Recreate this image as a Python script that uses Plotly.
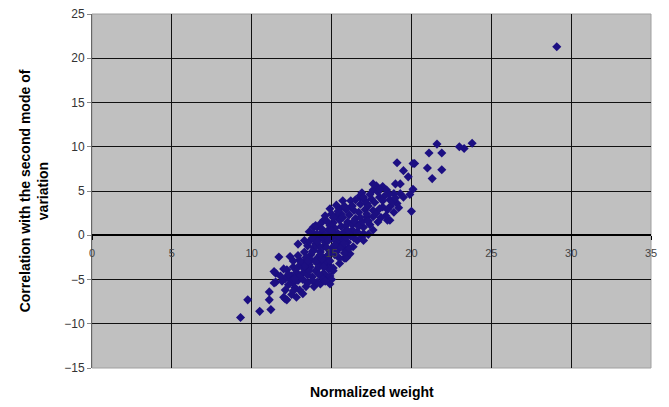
import plotly.graph_objects as go

# Normalized weight (x) and correlation with second mode of variation (y)
pts = [
    (29.1, 21.3),
    (23.8, 10.4), (23.3, 9.8), (23.0, 10.0), (21.6, 10.3), (21.1, 9.3), (21.9, 9.3),
    (20.2, 8.1), (21.0, 7.6), (21.9, 7.4), (21.3, 6.4), (19.1, 8.2), (19.5, 7.3),
    (20.1, 8.1), (19.8, 6.6), (20.1, 5.2), (19.9, 4.6), (20.0, 2.7), (19.3, 4.7),
    (19.0, 5.8), (19.3, 5.8), (19.5, 4.3),
    (9.3, -9.3), (9.75, -7.3), (10.5, -8.6), (11.2, -8.4), (11.1, -7.3), (11.1, -6.4),
    (12.1, -7.2), (12.1, -6.2), (11.4, -5.4), (11.5, -4.3), (12.0, -3.8), (11.7, -2.45),
    (12.0, -7.0), (11.4, -4.1), (11.5, -5.3), (12.1, -4.9), (12.6, -5.4), (12.2, -7.3),
    (12.8, -7.0), (13.0, -6.2), (13.4, -5.8), (13.8, -4.7), (12.6, -3.6), (13.0, -2.8),
    (13.9, -1.7), (13.85, 0.9), (14.3, -0.2), (14.9, 0.2), (14.5, -1.3), (15.1, -1.3),
    (15.5, -0.9), (15.95, -1.7), (16.35, -1.3), (17.0, 0.2), (17.2, 1.7), (17.6, 2.8),
    (13.4, -2.8), (13.2, -4.3), (14.5, -4.3), (14.3, -3.2), (13.65, -3.6), (13.9, -5.8),
    (14.3, -5.5), (14.7, -4.7), (15.1, -4.0), (15.5, -3.2), (15.95, -2.45), (14.9, -5.5),
    (14.8, -3.4), (15.8, -2.6),
    (14.9, 3.0), (15.5, 3.0), (14.1, 0.9), (14.5, 1.7), (15.3, 2.1), (16.2, 3.2),
    (16.8, 4.3), (17.2, 3.6), (17.6, 5.1), (17.8, 5.6), (18.2, 5.5), (18.45, 5.1),
    (18.9, 4.7), (18.0, 4.3), (18.65, 4.0), (19.1, 3.6), (18.2, 3.2), (17.8, 2.45),
    (18.5, 1.7), (17.2, 2.1), (16.6, 1.3), (17.0, 0.9), (16.2, 0.2), (16.6, -0.6),
    (15.7, -1.3), (16.15, -2.1), (15.9, -2.6), (18.65, 1.7),
    (12.4, -2.4), (12.9, -1.0), (13.3, -0.6), (13.6, 0.4), (14.0, 1.1), (16.8, 4.5),
    (17.6, 5.8),
    (14.0, -1.0), (14.2, -0.5), (14.4, 0.3), (14.6, -0.8), (14.8, 0.6), (15.0, -0.3),
    (15.2, 0.8), (15.4, 0.2), (15.6, 1.0), (15.8, 0.4), (16.0, 1.5), (15.3, -0.7),
    (15.1, 1.4), (14.9, -1.8), (14.7, -2.4), (14.3, -1.9), (14.1, -2.6), (13.7, -2.2),
    (13.5, -1.2), (13.6, -3.3), (13.3, -3.8), (13.1, -3.1), (12.8, -4.2), (12.5, -4.6),
    (12.9, -5.1), (13.5, -4.5), (14.0, -4.0), (14.2, -3.6), (14.6, -3.0), (14.9, -2.9),
    (15.2, -2.2), (15.4, -1.6), (15.7, -0.4), (16.0, -0.8), (16.3, 0.6), (16.5, 1.9),
    (16.7, 2.6), (16.9, 1.5), (17.1, 2.9), (17.3, 3.3), (17.5, 4.1), (17.7, 3.7),
    (17.4, 1.2), (16.8, 3.5), (16.4, 2.8), (16.1, 2.3), (15.9, 2.9), (15.6, 2.4),
    (15.3, 3.4), (15.7, 3.9), (16.5, 4.0), (17.9, 4.9), (18.3, 4.4), (18.7, 3.3),
    (18.9, 2.6), (18.4, 2.2), (17.9, 1.5), (17.6, 0.6), (16.9, -0.2), (16.4, -0.3),
    (15.8, -2.0), (15.5, -2.6), (15.1, -3.7), (14.8, -3.8), (14.4, -4.8), (14.1, -5.3),
    (13.8, -5.1), (13.2, -5.0), (12.7, -5.9), (12.4, -5.0), (12.2, -3.9), (12.6, -2.9),
    (12.9, -2.3), (13.3, -1.9), (13.6, -0.7), (13.9, 0.2), (14.3, 1.3), (14.6, 2.2),
    (14.9, 1.1), (15.0, 2.4), (15.5, 1.7), (15.9, 1.1), (16.2, -0.1), (16.6, 0.4),
    (17.0, -0.6), (17.3, 0.1), (16.1, -1.5), (15.6, -1.3), (15.2, -1.1), (14.7, -1.4),
    (14.5, -0.3), (14.2, -1.2), (13.9, -1.4), (13.7, -2.8), (13.4, -2.5), (14.0, -3.0),
    (14.4, -2.7), (14.8, -2.2), (15.3, -1.9), (15.8, -0.9), (16.3, 1.2), (16.7, 1.0),
    (17.2, 2.4), (17.6, 2.1), (18.0, 3.0), (18.2, 3.9), (18.6, 4.6), (17.4, 4.6),
    (16.9, 4.8), (17.1, 3.9), (16.2, 3.9), (15.8, 3.3), (15.4, 2.7), (15.1, 2.0),
    (14.7, 1.6), (14.4, 0.7), (14.1, 0.1), (13.8, -0.3), (13.5, -3.0), (13.0, -4.7),
    (12.3, -5.6), (12.5, -6.7), (13.2, -6.6), (13.6, -4.0), (14.2, -4.4), (14.9, -4.6),
    (15.0, -5.0), (14.6, -5.2), (14.3, -2.2), (15.6, 0.0), (16.0, 0.5), (15.2, 0.1),
    (14.8, -0.6), (15.4, -0.1), (15.9, -0.2), (16.4, 1.6), (16.8, 2.0), (17.3, 1.6),
    (18.1, 2.0), (18.5, 2.9), (18.8, 3.8), (19.2, 3.1), (19.0, 4.2), (18.0, 5.2),
    (17.0, 4.3), (16.3, 3.3), (15.7, 2.0), (15.0, 0.5), (14.6, 0.0), (14.1, -0.7),
    (13.8, -1.8), (13.3, -3.5), (12.9, -3.6), (12.7, -4.9), (12.3, -4.4), (11.9, -5.2),
    (11.8, -4.6), (12.6, -6.3), (13.5, -5.4), (14.5, -3.6),
]
normalized_weight = [p[0] for p in pts]
correlation = [p[1] for p in pts]

x_ticks = [0, 5, 10, 15, 20, 25, 30, 35]
y_ticks = [-15, -10, -5, 0, 5, 10, 15, 20, 25]

FONT = "Arial, Liberation Sans, sans-serif"

fig = go.Figure()
fig.add_trace(go.Scatter(
    x=normalized_weight, y=correlation, mode="markers",
    marker=dict(symbol="diamond", size=7, color="#1c0f82", line=dict(width=0)),
    showlegend=False,
))

fig.update_layout(
    width=669, height=407,
    margin=dict(l=92, r=18, t=14, b=39, autoexpand=False),
    paper_bgcolor="white", plot_bgcolor="#c0c0c0",
    font=dict(family=FONT, color="#333333"),
    xaxis=dict(
        range=[0, 35], tickvals=x_ticks, showgrid=True, gridcolor="#111111", gridwidth=1,
        zeroline=False, anchor="free", position=15 / 40, automargin=False,
        showline=True, linecolor="black", linewidth=2,
        ticks="outside", ticklen=4, tickcolor="black",
        ticklabelstandoff=4,
        tickfont=dict(size=11, color="#444444"),
    ),
    yaxis=dict(
        range=[-15, 25], tickvals=y_ticks, showgrid=True, gridcolor="#111111", gridwidth=1,
        zeroline=False, showline=True, linecolor="#666666", linewidth=1, automargin=False,
        ticks="outside", ticklen=4, tickcolor="#888888",
        tickfont=dict(size=12, color="#333333"),
        title=dict(text="<b>Correlation with the second mode of<br>variation</b>",
                   font=dict(size=14, color="black"), standoff=12),
    ),
    annotations=[dict(
        text="<b>Normalized weight</b>", xref="paper", yref="paper",
        x=0.5, y=-0.068, xanchor="center", yanchor="middle", showarrow=False,
        font=dict(size=14, color="black", family=FONT),
    )],
    shapes=[dict(type="rect", xref="paper", yref="paper", x0=0, y0=0, x1=1, y1=1,
                 line=dict(color="#a0a0a0", width=1), layer="below")],
)

fig.write_html("out.html", config={"displayModeBar": False},
               post_script="document.body.style.margin='0';")
